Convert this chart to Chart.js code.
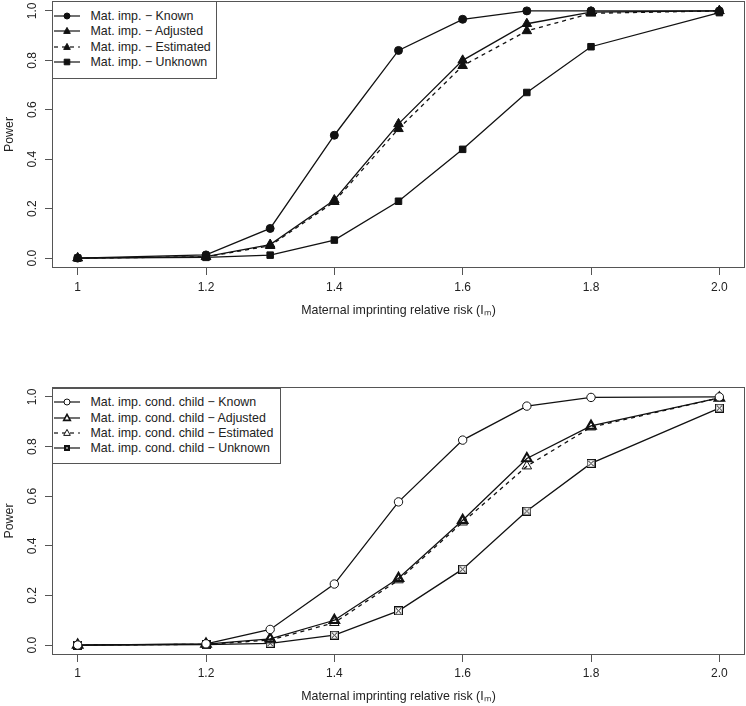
<!DOCTYPE html>
<html><head><meta charset="utf-8">
<script src="https://cdn.jsdelivr.net/npm/chart.js@4.4.1/dist/chart.umd.min.js"></script>
<style>
html,body{margin:0;padding:0;background:#fff;}
#wrap{position:relative;width:746px;height:706px;overflow:hidden;font-family:"Liberation Sans",Arial,sans-serif;}
.panel{position:absolute;left:0;width:746px;height:353px;}
.legend{position:absolute;box-sizing:border-box;border:1px solid #555;background:#fff;}
.row{position:absolute;left:0;height:14px;width:100%;}
.row canvas{position:absolute;left:0;top:0;}
.row span{position:absolute;left:37.5px;top:0;line-height:14px;font-size:12.4px;color:#222;white-space:nowrap;}
</style></head>
<body><div id="wrap">
<div class="panel" style="top:0"><canvas id="c1" width="746" height="353"></canvas></div>
<div class="panel" style="top:353px"><canvas id="c2" width="746" height="353"></canvas></div>
<div class="legend" id="leg1" style="left:52px;top:1px;width:165px;height:78px"></div>
<div class="legend" id="leg2" style="left:52px;top:388px;width:229px;height:76px"></div>
</div>
<script>
// ---- data ----
const imprintRR = [1, 1.2, 1.3, 1.4, 1.5, 1.6, 1.7, 1.8, 2.0];
const matKnown     = [0, 0.013, 0.12, 0.497, 0.84, 0.966, 1.0, 1.0, 1.0];
const matAdjusted  = [0, 0.006, 0.055, 0.235, 0.543, 0.80, 0.948, 0.995, 1.0];
const matEstimated = [0, 0.005, 0.05, 0.228, 0.523, 0.778, 0.919, 0.99, 1.0];
const matUnknown   = [0, 0.003, 0.012, 0.073, 0.23, 0.44, 0.67, 0.855, 0.993];
const condKnown     = [0, 0.005, 0.063, 0.246, 0.577, 0.826, 0.963, 0.998, 1.0];
const condAdjusted  = [0, 0.004, 0.025, 0.1, 0.269, 0.503, 0.752, 0.883, 0.996];
const condEstimated = [0, 0.003, 0.02, 0.09, 0.262, 0.495, 0.721, 0.878, 0.996];
const condUnknown   = [0, 0.002, 0.007, 0.04, 0.138, 0.306, 0.54, 0.732, 0.955];
const topLabels = ['Mat. imp. \u2212 Known', 'Mat. imp. \u2212 Adjusted', 'Mat. imp. \u2212 Estimated', 'Mat. imp. \u2212 Unknown'];
const bottomLabels = ['Mat. imp. cond. child \u2212 Known', 'Mat. imp. cond. child \u2212 Adjusted', 'Mat. imp. cond. child \u2212 Estimated', 'Mat. imp. cond. child \u2212 Unknown'];
const xTickValues = [1, 1.2, 1.4, 1.6, 1.8, 2.0];
const xTickLabels = ['1', '1.2', '1.4', '1.6', '1.8', '2.0'];
const yTickValues = [0, 0.2, 0.4, 0.6, 0.8, 1.0];
const yTickLabels = ['0.0', '0.2', '0.4', '0.6', '0.8', '1.0'];
const xTitle = 'Maternal imprinting relative risk (I\u2098)';
const yTitle = 'Power';

const FONT = '"Liberation Sans", Arial, sans-serif';
const INK = '#111';
const AXIS = '#555';
const TXT = '#222';
Chart.defaults.font.family = FONT;

// boxed-X marker (R pch 7)
function boxedX(size) {
  const c = document.createElement('canvas');
  c.width = size; c.height = size;
  const g = c.getContext('2d');
  g.fillStyle = '#fff'; g.fillRect(0, 0, size, size);
  g.strokeStyle = INK; g.lineWidth = 1.2;
  g.strokeRect(0.6, 0.6, size - 1.2, size - 1.2);
  g.lineWidth = 1;
  g.beginPath();
  g.moveTo(2, 2); g.lineTo(size - 2, size - 2);
  g.moveTo(size - 2, 2); g.lineTo(2, size - 2);
  g.stroke();
  return c;
}
const boxX = boxedX(9);

function pts(ys) { return imprintRR.map((x, i) => ({x: x, y: ys[i]})); }

function ds(label, ys, o) {
  return Object.assign({
    label, data: pts(ys), showLine: true, tension: 0,
    borderColor: INK, borderWidth: 1.3, pointBorderColor: INK,
    pointBackgroundColor: INK, pointBorderWidth: 1, pointHoverRadius: 0
  }, o);
}

const framePlugin = {
  id: 'frame',
  afterDraw(chart) {
    const a = chart.chartArea, c = chart.ctx;
    c.save();
    c.strokeStyle = AXIS; c.lineWidth = 1;
    const l = Math.round(a.left) + 0.5, t = Math.round(a.top) + 0.5;
    const r = Math.round(a.right) - 0.5, b = Math.round(a.bottom) - 0.5;
    c.strokeRect(l, t, r - l, b - t);
    c.restore();
  }
};

function makeChart(id, datasets, lay) {
  return new Chart(document.getElementById(id), {
    type: 'line',
    data: {datasets},
    plugins: [framePlugin],
    options: {
      responsive: false, animation: false, devicePixelRatio: 1,
      layout: {autoPadding: false, padding: {left: 0, right: 1, top: lay.top, bottom: 0}},
      plugins: {legend: {display: false}, tooltip: {enabled: false}},
      events: [],
      scales: {
        x: {
          type: 'linear', min: 0.96, max: 2.04,
          afterBuildTicks: s => { s.ticks = xTickValues.map(v => ({value: v})); },
          afterFit: s => { s.height = lay.xh; s.paddingLeft = 0; s.paddingRight = 0; },
          grid: {display: true, drawOnChartArea: false, drawTicks: true, tickLength: 7, color: AXIS, lineWidth: 1},
          border: {display: false},
          ticks: {autoSkip: false, maxRotation: 0, padding: lay.xtp, color: TXT, font: {size: 12},
                  callback: (v, i) => xTickLabels[i]},
          title: {display: true, text: xTitle, color: TXT, font: {size: 12.4}, padding: {top: 0, bottom: lay.xtb}}
        },
        y: {
          type: 'linear', min: -0.04, max: 1.04,
          afterBuildTicks: s => { s.ticks = yTickValues.map(v => ({value: v})); },
          afterFit: s => { s.width = 52; s.paddingTop = 0; s.paddingBottom = 0; },
          grid: {display: true, drawOnChartArea: false, drawTicks: true, tickLength: 7, color: AXIS, lineWidth: 1},
          border: {display: false},
          ticks: {autoSkip: false, minRotation: 90, maxRotation: 90, crossAlign: 'center', padding: 4,
                  color: TXT, font: {size: 12}, callback: (v, i) => yTickLabels[i]},
          title: {display: true, text: yTitle, color: TXT, font: {size: 12.4}, padding: {top: 2, bottom: 0}}
        }
      }
    }
  });
}

makeChart('c1', [
  ds(topLabels[0], matKnown, {pointStyle: 'circle', pointRadius: 4}),
  ds(topLabels[1], matAdjusted, {pointStyle: 'triangle', pointRadius: 5.5}),
  ds(topLabels[2], matEstimated, {pointStyle: 'triangle', pointRadius: 5.5, borderDash: [4, 4]}),
  ds(topLabels[3], matUnknown, {pointStyle: 'rect', pointRadius: 4.6})
], {top: 1, xh: 85, xtp: 5, xtb: 35});

makeChart('c2', [
  ds(bottomLabels[0], condKnown, {pointStyle: 'circle', pointRadius: 4.2, pointBackgroundColor: '#fff'}),
  ds(bottomLabels[1], condAdjusted, {pointStyle: 'triangle', pointRadius: 5.5, pointBackgroundColor: 'rgba(0,0,0,0)', pointBorderWidth: 2}),
  ds(bottomLabels[2], condEstimated, {pointStyle: 'triangle', pointRadius: 5.5, pointBackgroundColor: 'rgba(0,0,0,0)', borderDash: [4, 4]}),
  ds(bottomLabels[3], condUnknown, {pointStyle: boxX, pointRadius: 4.5})
], {top: 34, xh: 51, xtp: 4, xtb: 2});

// ---- legends ----
function drawSym(g, kind, open, dashed, lw) {
  g.strokeStyle = INK; g.fillStyle = INK; g.lineWidth = 1.2;
  if (dashed) g.setLineDash([4, 4]);
  g.beginPath(); g.moveTo(1, 7); g.lineTo(27, 7); g.stroke();
  g.setLineDash([]);
  const cx = 14, cy = 7;
  g.lineWidth = lw || 1;
  g.beginPath();
  if (kind === 'circle') { g.arc(cx, cy, 3, 0, Math.PI * 2); }
  else if (kind === 'tri') { g.moveTo(cx, cy - 3.6); g.lineTo(cx + 3.3, cy + 2.4); g.lineTo(cx - 3.3, cy + 2.4); g.closePath(); }
  else if (kind === 'rect') { g.rect(cx - 2.8, cy - 2.8, 5.6, 5.6); }
  if (open) { g.fillStyle = '#fff'; g.fill(); g.stroke(); }
  else { g.fill(); g.stroke(); }
  if (kind === 'boxx') {
    g.fillStyle = INK; g.fillRect(cx - 3, cy - 3, 6, 6);
    g.fillStyle = '#888'; g.fillRect(cx - 1, cy - 1, 2, 2);
  }
}
function buildLegend(id, labels, syms, tops) {
  const L = document.getElementById(id);
  labels.forEach((t, i) => {
    const row = document.createElement('div');
    row.className = 'row'; row.style.top = tops[i] + 'px';
    const cv = document.createElement('canvas'); cv.width = 30; cv.height = 14;
    const s = syms[i]; drawSym(cv.getContext('2d'), s[0], s[1], s[2], s[3]);
    const sp = document.createElement('span'); sp.textContent = t;
    row.appendChild(cv); row.appendChild(sp); L.appendChild(row);
  });
}
buildLegend('leg1', topLabels,
  [['circle', false, false], ['tri', false, false], ['tri', false, true], ['rect', false, false]],
  [6.7, 22, 37.7, 53]);
buildLegend('leg2', bottomLabels,
  [['circle', true, false], ['tri', true, false, 1.6], ['tri', true, true], ['boxx', false, false]],
  [5.7, 21.7, 37.3, 52.3]);
</script>
</body></html>
